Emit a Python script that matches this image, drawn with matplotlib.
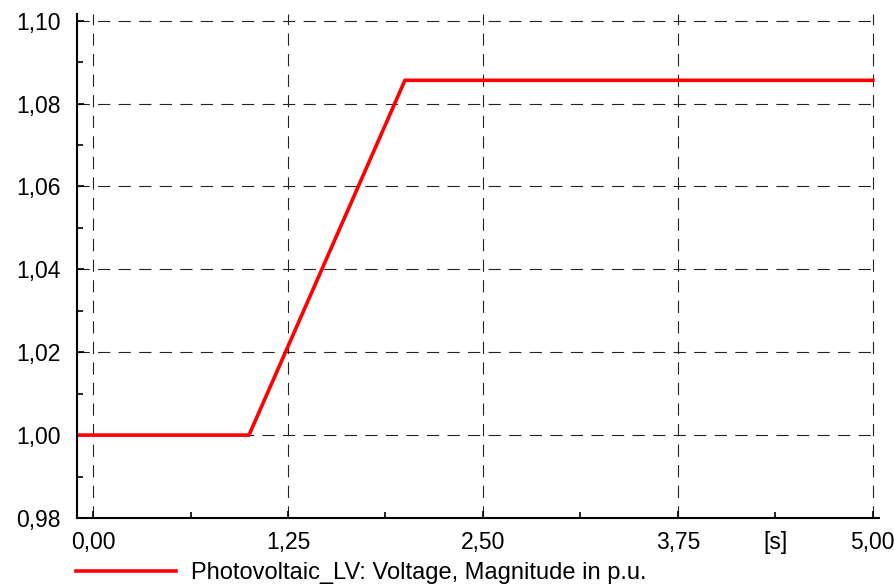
import matplotlib.pyplot as plt
from matplotlib.ticker import FixedLocator, MultipleLocator, FuncFormatter

# simulation result: PV terminal voltage
time_s = [-0.1, 1.0, 2.0, 5.0]
voltage_pu = [1.0, 1.0, 1.0856, 1.0856]

x_ticks = [0.0, 1.25, 2.5, 3.75, 5.0]
y_ticks = [0.98, 1.00, 1.02, 1.04, 1.06, 1.08, 1.10]
series_label = "Photovoltaic_LV: Voltage, Magnitude in p.u."
x_unit = "[s]"

plt.rcParams["font.family"] = ["Liberation Sans", "DejaVu Sans"]

fig = plt.figure(figsize=(8.95, 5.87), dpi=100)
ax = fig.add_axes([77 / 895, 1 - 518 / 587, (879 - 77) / 895, (518 - 14) / 587])

line, = ax.plot(time_s, voltage_pu, color="#ff0000", lw=2.6, solid_joinstyle="miter")

ax.set_xlim(-0.103, 5.04)
ax.set_ylim(0.98, 1.1016)

ax.xaxis.set_major_locator(FixedLocator(x_ticks))
ax.xaxis.set_minor_locator(MultipleLocator(0.625))
ax.yaxis.set_major_locator(FixedLocator(y_ticks))
ax.yaxis.set_minor_locator(MultipleLocator(0.01))

comma = FuncFormatter(lambda v, p: f"{v:.2f}".replace(".", ","))
ax.xaxis.set_major_formatter(comma)
ax.yaxis.set_major_formatter(comma)

ax.tick_params(which="both", direction="in", width=1.2, colors="black", labelsize=16.5)
ax.tick_params(which="major", length=5)
ax.tick_params(which="minor", length=4.5)
ax.tick_params(axis="y", pad=12)
ax.tick_params(axis="x", pad=9)

ax.spines["top"].set_visible(False)
ax.spines["right"].set_visible(False)
for s in ("left", "bottom"):
    ax.spines[s].set_linewidth(1.5)

# grid only where the y range covers it
ax.grid(True, which="major", color="#222222", lw=0.8, linestyle=(0, (11, 7.5)))
ax.yaxis.get_gridlines()[0].set_visible(False)

ax.annotate(x_unit, xy=(4.375, 0), xycoords=ax.get_xaxis_transform(),
            xytext=(0, -9), textcoords="offset points",
            ha="center", va="top", fontsize=16.5)

fig.legend([line], [series_label], loc="center left",
           bbox_to_anchor=(76 / 895, 1 - 573 / 587), frameon=False,
           fontsize=17, handlelength=4.25, handletextpad=0.6,
           borderpad=0, borderaxespad=0)

fig.savefig("out.png", dpi=100)
